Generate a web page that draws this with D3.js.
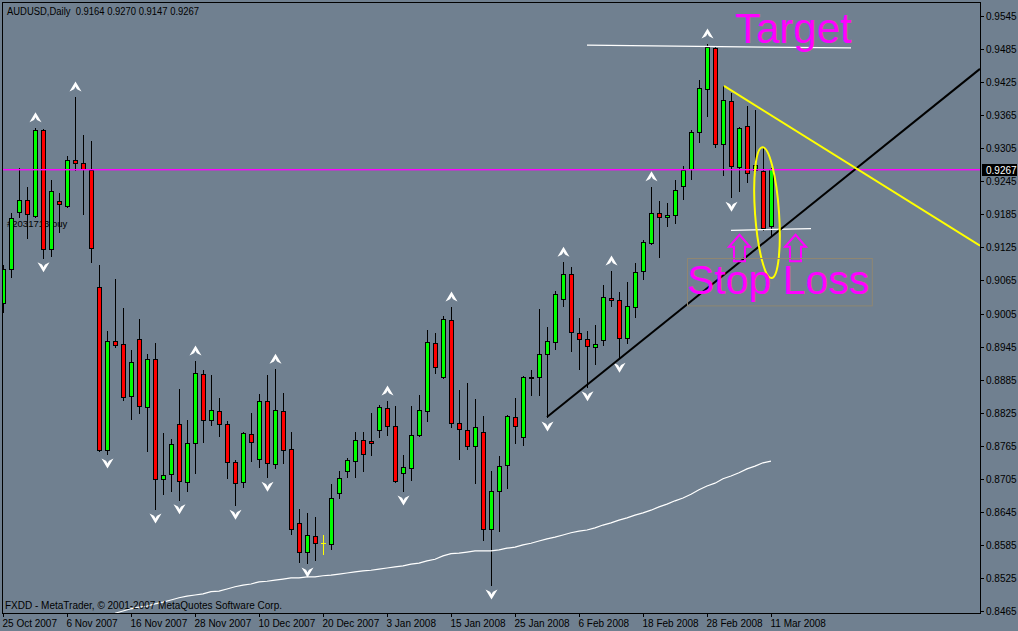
<!DOCTYPE html>
<html><head><meta charset="utf-8">
<script src="https://cdn.jsdelivr.net/npm/d3@7"></script>
<style>
html,body{margin:0;padding:0;background:#708090;overflow:hidden}
svg{display:block}
text{font-family:"Liberation Sans",Arial,sans-serif;white-space:pre}
</style>
</head><body>
<svg id="c" width="1018" height="631"></svg>
<script>
// ---------------- DATA ----------------
const symbolTitle = "AUDUSD,Daily  0.9164 0.9270 0.9147 0.9267";
const opens = [0.9024,0.9086,0.9189,0.9211,0.9182,0.9338,0.9122,0.9209,0.9200,0.9284,
0.9278,0.9265,0.9053,0.8757,0.8955,0.8950,0.8855,0.8959,0.8835,0.8922,
0.8705,0.8714,0.8804,0.8699,0.8770,0.8895,0.8812,0.8828,0.8804,0.8735,
0.8699,0.8786,0.8741,0.8846,0.8732,0.8828,0.8759,0.8625,0.8572,0.8601,
0.8588,0.8587,0.8679,0.8719,0.8737,0.8775,0.8774,0.8794,0.8834,0.8801,
0.8716,0.8725,0.8784,0.8828,0.8951,0.8890,0.8993,0.8806,0.8794,0.8765,
0.8790,0.8614,0.8683,0.8730,0.8817,0.8781,0.8888,0.8890,0.8931,0.8953,
0.9031,0.9077,0.8970,0.8959,0.8944,0.8957,0.9033,0.9030,0.8961,0.9017,
0.9082,0.9133,0.9187,0.9180,0.9184,0.9236,0.9267,0.9334,0.9412,0.9487,
0.9313,0.9391,0.9271,0.9345,0.9265,0.9264,0.9164];
const highs = [0.9093,0.9187,0.9269,0.9235,0.9342,0.9340,0.9247,0.9224,0.9291,0.9398,
0.9329,0.9318,0.9093,0.8973,0.9068,0.9015,0.8939,0.8995,0.8931,0.8951,
0.8788,0.8777,0.8868,0.8812,0.8919,0.8902,0.8893,0.8852,0.8810,0.8739,
0.8790,0.8824,0.8859,0.8893,0.8904,0.8861,0.8790,0.8650,0.8643,0.8636,
0.8603,0.8696,0.8719,0.8743,0.8790,0.8790,0.8824,0.8839,0.8846,0.8837,
0.8748,0.8837,0.8857,0.8975,0.8970,0.9000,0.9017,0.8866,0.8879,0.8850,
0.8819,0.8719,0.8746,0.8821,0.8852,0.8892,0.8902,0.9013,0.8980,0.9046,
0.9098,0.9089,0.8997,0.8973,0.8984,0.9057,0.9082,0.9044,0.9062,0.9097,
0.9138,0.9235,0.9209,0.9206,0.9247,0.9273,0.9338,0.9429,0.9494,0.9491,
0.9418,0.9405,0.9343,0.9382,0.9374,0.9307,0.9270];
const lows = [0.9008,0.9071,0.9180,0.9142,0.9180,0.9106,0.9109,0.9153,0.9198,0.9265,
0.9186,0.9098,0.8755,0.8750,0.8944,0.8848,0.8814,0.8824,0.8755,0.8650,
0.8677,0.8683,0.8667,0.8683,0.8716,0.8772,0.8803,0.8783,0.8706,0.8657,
0.8690,0.8737,0.8726,0.8708,0.8725,0.8734,0.8605,0.8554,0.8552,0.8558,
0.8569,0.8578,0.8670,0.8708,0.8708,0.8719,0.8748,0.8781,0.8784,0.8699,
0.8683,0.8703,0.8783,0.8810,0.8897,0.8888,0.8799,0.8741,0.8759,0.8697,
0.8594,0.8512,0.8610,0.8688,0.8770,0.8766,0.8857,0.8857,0.8817,0.8941,
0.9019,0.8937,0.8904,0.8872,0.8913,0.8948,0.9019,0.8924,0.8951,0.8999,
0.9068,0.9131,0.9108,0.9164,0.9169,0.9213,0.9249,0.9316,0.9363,0.9307,
0.9256,0.9216,0.9227,0.9244,0.9262,0.9157,0.9147];
const closes = [0.9086,0.9178,0.9211,0.9186,0.9338,0.9122,0.9227,0.9204,0.9284,0.9278,
0.9267,0.9124,0.8757,0.8955,0.8948,0.8853,0.8917,0.8837,0.8922,0.8705,
0.8712,0.8768,0.8701,0.8770,0.8897,0.8812,0.8830,0.8804,0.8735,0.8697,
0.8788,0.8772,0.8846,0.8734,0.8830,0.8757,0.8614,0.8572,0.8603,0.8588,
0.8588,0.8670,0.8706,0.8739,0.8775,0.8750,0.8770,0.8835,0.8801,0.8701,
0.8726,0.8784,0.8830,0.8953,0.8908,0.8995,0.8806,0.8795,0.8765,0.8799,
0.8614,0.8683,0.8728,0.8819,0.8801,0.8890,0.8889,0.8931,0.8955,0.9040,
0.9077,0.8971,0.8959,0.8946,0.8950,0.9035,0.9030,0.8961,0.9019,0.9080,
0.9135,0.9187,0.9180,0.9184,0.9229,0.9265,0.9334,0.9414,0.9489,0.9313,
0.9393,0.9273,0.9342,0.9260,0.9275,0.9160,0.9267];
// long moving average, first value at bar 14
const maStart = 14;
const maValues = [0.8461,0.8465,0.8469,0.8472,0.8474,0.8478,0.8481,0.8485,0.8489,0.8492,
0.8494,0.8496,0.8500,0.8501,0.8505,0.8509,0.8512,0.8514,0.8518,0.8519,
0.8521,0.8523,0.8525,0.8525,0.8527,0.8527,0.8529,0.8530,0.8532,0.8534,
0.8536,0.8538,0.8539,0.8541,0.8543,0.8545,0.8547,0.8550,0.8552,0.8556,
0.8559,0.8565,0.8569,0.8570,0.8572,0.8574,0.8574,0.8574,0.8576,0.8579,
0.8581,0.8585,0.8588,0.8592,0.8596,0.8599,0.8603,0.8607,0.8610,0.8612,
0.8616,0.8621,0.8625,0.8630,0.8634,0.8639,0.8643,0.8648,0.8654,0.8659,
0.8665,0.8670,0.8677,0.8685,0.8692,0.8697,0.8705,0.8710,0.8716,0.8723,
0.8728,0.8734,0.8737];
const fractalUp = [4,9,24,34,48,56,70,76,81,88];
const fractalDown = [5,13,19,22,29,33,38,50,61,68,73,77,91];
const dateTickBars = [0,8,16,24,32,40,48,56,64,72,80,88,96];
const dateLabels = ["25 Oct 2007","6 Nov 2007","16 Nov 2007","28 Nov 2007","10 Dec 2007",
"20 Dec 2007","3 Jan 2008","15 Jan 2008","25 Jan 2008","6 Feb 2008","18 Feb 2008",
"28 Feb 2008","11 Mar 2008"];
const priceTicks = [0.9545,0.9485,0.9425,0.9365,0.9305,0.9245,0.9185,0.9125,0.9065,0.9005,
0.8945,0.8885,0.8825,0.8765,0.8705,0.8645,0.8585,0.8525,0.8465];
const bidPrice = 0.9267;
// drawn objects: [bar, price]
const targetLine = [[73,0.9492],[106,0.9487]];
const stopLine = [[91,0.9156],[101,0.9159]];
const supportLine = [[68,0.8817],[122.125,0.9449]];
const resistLine = [[90.125,0.9418],[122.125,0.9128]];
const ellipseObj = {bar:95.5, price:0.9188, barR:1.5, priceR:0.0119, angle:-4};
const arrowBars = [92.06, 99.06];
const arrowTip = 0.9148, arrowBottom = 0.9100;
const targetText = {bar:91.5, price:0.9496, text:"Target"};
const stopText = {bar:85.5, price:0.9040, text:"Stop Loss"};
const stopBox = {bar0:85.5, bar1:108.6, p0:0.9106, p1:0.9020};
const tradeLabel = {bar:0.5, price:0.9162, text:"#2031713 buy"};
const copyright = "FXDD - MetaTrader, \u00A9 2001-2007 MetaQuotes Software Corp.";

// ---------------- SCALES ----------------
const svg = d3.select("#c");
const x = d3.scaleLinear().domain([0,122]).range([3,979]);
const y = d3.scaleLinear().domain([0.8465,0.9545]).range([611,16]);
const L=2, T=2, R=980, B=613;

svg.append("rect").attr("width",1018).attr("height",631).attr("fill","#708090");
svg.append("defs").append("clipPath").attr("id","clip")
  .append("rect").attr("x",L+1).attr("y",T+1).attr("width",R-L-1).attr("height",B-T-1);
const g = svg.append("g").attr("clip-path","url(#clip)");

// trade label (behind candles)
g.append("text").attr("x",x(tradeLabel.bar)).attr("y",y(tradeLabel.price))
  .attr("font-size",9.5).attr("fill","#000").text(tradeLabel.text);

// candles
const bars = d3.range(opens.length).map(i=>({i,o:opens[i],h:highs[i],l:lows[i],c:closes[i]}));
const cg = g.append("g").attr("shape-rendering","crispEdges");
bars.forEach(d=>{
  const cx = Math.round(x(d.i));
  const doji = d.o===d.c;
  const col = doji ? "#ffff00" : "#000";
  cg.append("line").attr("x1",cx+0.5).attr("x2",cx+0.5)
    .attr("y1",Math.round(y(d.h))).attr("y2",Math.round(y(d.l))+1)
    .attr("stroke",col).attr("stroke-width",1);
  if(doji){
    const yy=Math.round(y(d.o))+0.5;
    cg.append("line").attr("x1",cx-2).attr("x2",cx+3).attr("y1",yy).attr("y2",yy)
      .attr("stroke",col).attr("stroke-width",1);
  } else {
    const yt=Math.round(y(Math.max(d.o,d.c))), yb=Math.round(y(Math.min(d.o,d.c)));
    cg.append("rect").attr("x",cx-1.5).attr("y",yt+0.5).attr("width",4)
      .attr("height",Math.max(0,yb-yt))
      .attr("fill",d.c>d.o?"#00ff00":"#ff0000").attr("stroke","#000").attr("stroke-width",1);
  }
});

// moving average
g.append("path").datum(maValues)
  .attr("d",d3.line().x((v,k)=>x(maStart+k)).y(v=>y(v)))
  .attr("fill","none").attr("stroke","#ffffff").attr("stroke-width",1.2);

// fractals
function arrowHead(cx,cy,up){
  const s = up?1:-1;
  return `M${cx},${cy-5.5*s} L${cx+6},${cy+4.5*s} L${cx},${cy+1.5*s} L${cx-6},${cy+4.5*s} Z`;
}
fractalUp.forEach(i=>{
  const cx=Math.round(x(i))+0.5, cy=y(highs[i])-10;
  g.append("path").attr("d",arrowHead(cx,cy,true)).attr("fill","#fff");
  g.append("path").attr("d",`M${cx},${cy-0.5} L${cx+1.8},${cy+3} L${cx-1.8},${cy+3} Z`).attr("fill","#708090");
});
fractalDown.forEach(i=>{
  const cx=Math.round(x(i))+0.5, cy=y(lows[i])+9;
  g.append("path").attr("d",arrowHead(cx,cy,false)).attr("fill","#fff");
  g.append("path").attr("d",`M${cx},${cy+0.5} L${cx+1.8},${cy-3} L${cx-1.8},${cy-3} Z`).attr("fill","#708090");
});

// bid line
const byl = Math.round(y(bidPrice));
g.append("rect").attr("x",L).attr("y",byl).attr("width",R-L).attr("height",1.4)
  .attr("fill","#ff00ff");

const ln = d3.line().x(d=>x(d[0])).y(d=>y(d[1]));
g.append("path").datum(targetLine).attr("d",ln).attr("stroke","#fff").attr("stroke-width",1.2).attr("fill","none");
g.append("path").datum(stopLine).attr("d",ln).attr("stroke","#fff").attr("stroke-width",1.2).attr("fill","none");
g.append("path").datum(supportLine).attr("d",ln).attr("stroke","#000").attr("stroke-width",2).attr("fill","none");
g.append("path").datum(resistLine).attr("d",ln).attr("stroke","#ffff00").attr("stroke-width",2).attr("fill","none");

// ellipse
const ex=x(ellipseObj.bar), ey=y(ellipseObj.price);
g.append("ellipse").attr("cx",ex).attr("cy",ey)
  .attr("rx",x(ellipseObj.bar+ellipseObj.barR)-ex)
  .attr("ry",y(ellipseObj.price-ellipseObj.priceR)-ey)
  .attr("transform",`rotate(${ellipseObj.angle},${ex},${ey})`)
  .attr("fill","none").attr("stroke","#ffff00").attr("stroke-width",2);

// hollow arrows
arrowBars.forEach(b=>{
  const cx=x(b), yt=y(arrowTip), yb=y(arrowBottom);
  const hh=12;
  g.append("path").attr("d",`M${cx},${yt} L${cx+10.5},${yt+hh} L${cx+5.5},${yt+hh} L${cx+5.5},${yb} L${cx-5.5},${yb} L${cx-5.5},${yt+hh} L${cx-10.5},${yt+hh} Z`)
    .attr("fill","none").attr("stroke","#ff00ff").attr("stroke-width",2);
});

// texts
g.append("rect").attr("x",x(stopBox.bar0)+0.5).attr("y",Math.round(y(stopBox.p0))+0.5)
  .attr("width",x(stopBox.bar1)-x(stopBox.bar0)).attr("height",y(stopBox.p1)-y(stopBox.p0))
  .attr("fill","none").attr("stroke","#8f8672").attr("stroke-width",1);
g.append("text").attr("x",x(targetText.bar)).attr("y",y(targetText.price))
  .attr("font-size",42).attr("fill","#ff00ff").text(targetText.text);
g.append("text").attr("x",x(stopText.bar)).attr("y",y(stopText.price))
  .attr("font-size",41).attr("fill","#ff00ff").text(stopText.text);

svg.append("text").attr("x",7).attr("y",15).attr("font-size",10).attr("fill","#000")
  .attr("textLength",192).attr("lengthAdjust","spacingAndGlyphs").text(symbolTitle);
svg.append("text").attr("x",5).attr("y",609).attr("font-size",10).attr("fill","#000")
  .attr("textLength",277).attr("lengthAdjust","spacingAndGlyphs").text(copyright);

// frame
svg.append("rect").attr("x",L+0.5).attr("y",T+0.5).attr("width",R-L).attr("height",B-T)
  .attr("fill","none").attr("stroke","#000").attr("stroke-width",1);

// price axis
priceTicks.forEach(p=>{
  const yy=Math.round(y(p))+0.5;
  svg.append("line").attr("x1",R).attr("x2",R+4).attr("y1",yy).attr("y2",yy).attr("stroke","#000");
  svg.append("text").attr("x",R+6).attr("y",yy+3.5).attr("font-size",10).attr("fill","#000").text(p.toFixed(4));
});
const by=Math.round(y(bidPrice));
svg.append("rect").attr("x",R+2).attr("y",by-5).attr("width",35).attr("height",12).attr("fill","#000");
svg.append("text").attr("x",R+6).attr("y",by+5).attr("font-size",10).attr("fill","#fff").text(bidPrice.toFixed(4));

// date axis
dateTickBars.forEach((b,k)=>{
  const xx=Math.round(x(b))+0.5;
  svg.append("line").attr("x1",xx).attr("x2",xx).attr("y1",B).attr("y2",B+4).attr("stroke","#000");
  svg.append("text").attr("x",xx-1).attr("y",627).attr("font-size",10).attr("fill","#000").text(dateLabels[k]);
});
</script>
</body></html>
